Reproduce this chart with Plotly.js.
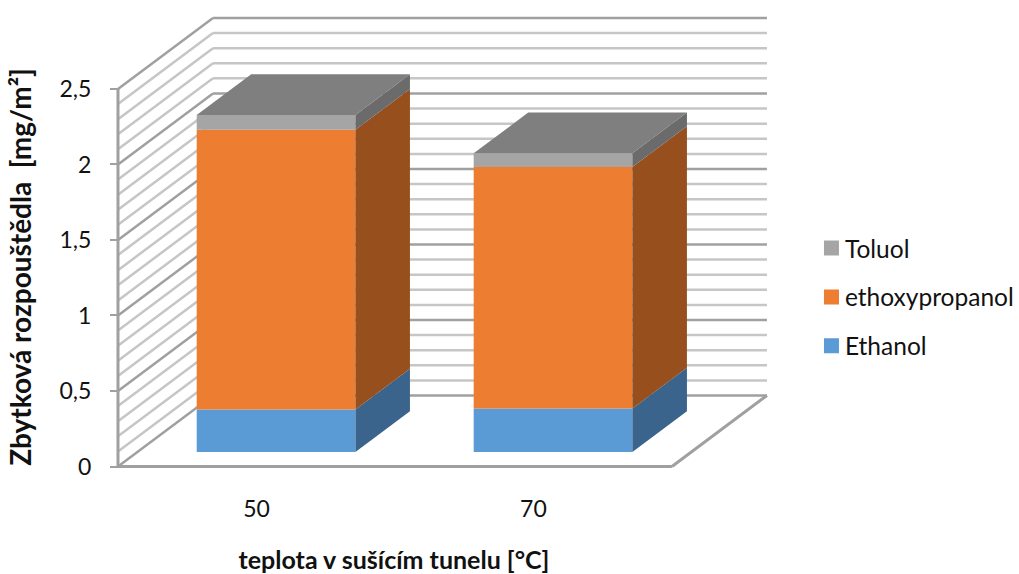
<!DOCTYPE html>
<html>
<head>
<meta charset="utf-8">
<script src="https://cdn.plot.ly/plotly-3.0.1.min.js"></script>
<style>html,body{margin:0;padding:0;background:#fff}</style>
</head>
<body>
<div id="chart" style="width:1019px;height:574px"></div>
<script>
// Residual solvent per drying-tunnel temperature, stacked bottom to top
const temperatures = ['50', '70'];
const ethanol = [0.281, 0.287];
const ethoxypropanol = [1.852, 1.60];
const toluol = [0.097, 0.09];
const yTickValues = [0, 0.5, 1, 1.5, 2, 2.5];
const yTickLabels = ['0', '0,5', '1', '1,5', '2', '2,5'];

// Oblique projection: full floor depth expressed in axis units
const DEPTH_X = 0.343, DEPTH_Y = 0.47;
const BAR_FRONT = 0.206, BAR_BACK = 0.78, BAR_WIDTH = 0.573;
const FLOOR_LEFT = -0.5, FLOOR_RIGHT = 1.5;
const project = (x, y, depth) => [x + depth * DEPTH_X, y + depth * DEPTH_Y];

const seriesDefs = [
  {name: 'Ethanol', values: ethanol, front: '#5b9bd5', side: '#3a648c', rank: 3},
  {name: 'ethoxypropanol', values: ethoxypropanol, front: '#ed7d31', side: '#964f1d', rank: 2},
  {name: 'Toluol', values: toluol, front: '#a5a5a5', side: '#6b6b6b', rank: 1}
];
const TOP_COLOR = '#7f7f7f';

const traces = [];
const faces = [];
const running = temperatures.map(() => 0);

// Closed polygon for one bar face, passed to a filled scatter trace
function facePolygon(corners, color) {
  const xs = corners.map(c => c[0]), ys = corners.map(c => c[1]);
  return {type: 'scatter', mode: 'lines', x: xs.concat(xs[0]), y: ys.concat(ys[0]),
    fill: 'toself', fillcolor: color, line: {width: 0, color: color},
    showlegend: false, hoverinfo: 'skip'};
}

seriesDefs.forEach(s => {
  const bases = running.slice();
  traces.push({
    type: 'bar', name: s.name, legendgroup: s.name, legendrank: s.rank,
    x: temperatures.map((_, i) => project(i, 0, BAR_FRONT)[0]),
    y: s.values,
    base: bases.map(b => project(0, b, BAR_FRONT)[1]),
    width: BAR_WIDTH,
    marker: {color: s.front, line: {width: 0}},
    hovertemplate: s.name + ': %{y}<extra></extra>'
  });
  s.values.forEach((v, i) => {
    const right = i + BAR_WIDTH / 2;
    faces.push(facePolygon([
      project(right, bases[i], BAR_FRONT),
      project(right, bases[i], BAR_BACK),
      project(right, bases[i] + v, BAR_BACK),
      project(right, bases[i] + v, BAR_FRONT)
    ], s.side));
    running[i] += v;
  });
});

// Lid of each column
running.forEach((total, i) => {
  const l = i - BAR_WIDTH / 2, r = i + BAR_WIDTH / 2;
  faces.push(facePolygon([
    project(l, total, BAR_FRONT), project(l, total, BAR_BACK),
    project(r, total, BAR_BACK), project(r, total, BAR_FRONT)
  ], TOP_COLOR));
});

// Wall gridlines every 0.1, heavier on the labelled values
const MAJOR = '#a0a0a0', MINOR = '#c6c6c6';
const shapes = [];
function addLine(a, b, color, width) {
  shapes.push({type: 'line', layer: 'below', xref: 'x', yref: 'y',
    x0: a[0], y0: a[1], x1: b[0], y1: b[1], line: {color: color, width: width}});
}
for (let k = 1; k <= 25; k++) {
  if (k % 5 === 0) continue;
  const v = k / 10;
  addLine(project(FLOOR_LEFT, v, 0), project(FLOOR_LEFT, v, 1), MINOR, 2.5);
  addLine(project(FLOOR_LEFT, v, 1), project(FLOOR_RIGHT, v, 1), MINOR, 2.5);
}
for (let k = 0; k <= 25; k += 5) {
  const v = k / 10;
  addLine(project(FLOOR_LEFT, v, 0), project(FLOOR_LEFT, v, 1), MAJOR, 2.5);
  addLine(project(FLOOR_LEFT, v, 1), project(FLOOR_RIGHT, v, 1), MAJOR, 2.5);
}
// Floor outline and the value axis line
addLine(project(FLOOR_LEFT, 0, 0), project(FLOOR_RIGHT, 0, 0), MAJOR, 3);
addLine(project(FLOOR_RIGHT, 0, 0), project(FLOOR_RIGHT, 0, 1), MAJOR, 3);
addLine(project(FLOOR_LEFT, 0, 0), project(FLOOR_LEFT, 2.5, 0), MAJOR, 3);

const FONT = 'Lato, "Open Sans", sans-serif';
const TEXT = '#111111';
const layout = {
  width: 1019, height: 574,
  margin: {l: 18, r: 249, t: 16, b: 56, pad: 0, autoexpand: false},
  paper_bgcolor: '#fff', plot_bgcolor: 'rgba(0,0,0,0)',
  barmode: 'overlay', hovermode: 'closest',
  font: {family: FONT, color: TEXT, size: 24},
  xaxis: {
    range: [-0.861, 1.854], anchor: 'free', position: 0.1026,
    tickmode: 'array', tickvals: temperatures.map((_, i) => i), ticktext: temperatures,
    showgrid: false, zeroline: false, showline: false, ticks: '',
    ticklabelstandoff: 27, tickfont: {family: FONT, size: 23, color: TEXT},
    title: {text: 'teplota v sušícím tunelu [°C]', standoff: 31,
      font: {family: FONT, size: 25, weight: 'bold', color: TEXT}}
  },
  yaxis: {
    range: [-0.341, 2.983], anchor: 'free', position: 0.133,
    tickmode: 'array', tickvals: yTickValues, ticktext: yTickLabels,
    showgrid: false, zeroline: false, showline: false,
    ticks: 'outside', ticklen: 8, tickwidth: 2, tickcolor: MAJOR,
    ticklabelstandoff: 14, tickfont: {family: FONT, size: 23, color: TEXT},
    title: {text: 'Zbytková rozpouštědla\u00a0 [mg/m²]', standoff: 18,
      font: {family: FONT, size: 28, weight: 'bold', color: TEXT}}
  },
  legend: {
    x: 1.0465, xanchor: 'left', y: 0.44, yanchor: 'middle',
    traceorder: 'grouped', tracegroupgap: 14,
    bgcolor: 'rgba(0,0,0,0)', font: {family: FONT, size: 24.5, color: TEXT}
  },
  shapes: shapes
};

Plotly.newPlot('chart', traces.concat(faces), layout, {displayModeBar: false, responsive: false})
  .then(() => {
    // Larger legend keys, set closer to their labels
    document.querySelectorAll('#chart .legend .legendsymbols path').forEach(p => {
      p.setAttribute('transform', 'translate(26.5,0) scale(1.25)');
    });
  });
</script>
</body>
</html>
